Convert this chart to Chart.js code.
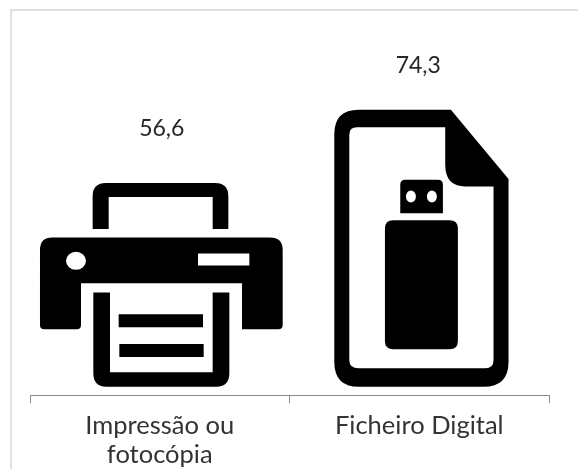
<!DOCTYPE html>
<html><head><meta charset="utf-8">
<script src="https://cdn.jsdelivr.net/npm/chart.js@4"></script>
<style>
html,body{margin:0;padding:0;background:#fff;overflow:hidden}
#wrap{position:absolute;left:0;top:0;width:578px;height:469px;overflow:hidden}
#frame{position:absolute;left:10px;top:9px;width:600px;height:500px;border:2px solid #e0e0e0}
canvas{position:absolute;left:0;top:0}
</style></head><body>
<div id="wrap"><div id="frame"></div><canvas id="c" width="578" height="469"></canvas></div>
<script>
const categories = [["Impressão ou","fotocópia"],"Ficheiro Digital"];
const values = [56.6, 74.3];
const valueLabels = ["56,6","74,3"];

const icons = [
 { frame:[49.5,24,789,675],
   paths:["M218,178V80Q218,40 258,40H585Q625,40 625,80V178H578V82H266V178Z",
   "M60,240Q60,203 97,203H750Q788,203 788,240V465Q788,478 775,478H666V340H183V465Q183,478 170,478H73Q60,478 60,465Z M138,273a30,27 0 1,0 60,0a30,27 0 1,0 -60,0Z M534,251H688V287H534Z",
   "M220,368H270V607H578V368H628V610Q628,650 590,650H258Q220,650 220,610Z",
   "M296,433H549V472H296Z","M298,522H551V561H298Z"] },
 { frame:[17,210,757,1065],
   paths:["M205,210H482L655,418V965Q655,1040 580,1040H205Q132,1040 132,965V283Q132,210 205,210Z M200,263H465V375Q465,440 525,440H610V960Q610,985 585,985H205Q177,985 177,960V285Q177,263 200,263Z",
   "M345,420H443Q458,420 458,435V520H330V435Q330,420 345,420Z M347,470a15,18 0 1,0 30,0a15,18 0 1,0 -30,0Z M410,470a15,18 0 1,0 30,0a15,18 0 1,0 -30,0Z",
   "M309,541H478Q503,541 503,566V903Q503,928 478,928H309Q284,928 284,903V566Q284,541 309,541Z"] }
];
const labelGap = [49, 44];
const labelShift = [2, -1];

const pictogram = {
  id:'pictogram',
  afterDatasetsDraw(chart){
    const ctx = chart.ctx;
    chart.getDatasetMeta(0).data.forEach((bar,i)=>{
      const p = bar.getProps(['x','y','base','width'],true);
      const ic = icons[i], f = ic.frame;
      ctx.save();
      ctx.translate(p.x-p.width/2, p.y);
      ctx.scale(p.width/(f[2]-f[0]), (p.base-p.y)/(f[3]-f[1]));
      ctx.translate(-f[0],-f[1]);
      ctx.fillStyle='#000';
      ic.paths.forEach(d=>ctx.fill(new Path2D(d),'evenodd'));
      ctx.restore();
      ctx.save();
      ctx.font='23px "Lato"';
      ctx.fillStyle='#262626';
      ctx.textAlign='center';ctx.textBaseline='middle';
      ctx.fillText(valueLabels[i], p.x+labelShift[i], p.y-labelGap[i]);
      ctx.restore();
    });
  }
};

new Chart(document.getElementById('c'),{
  type:'bar',
  data:{labels:categories,datasets:[{data:values,backgroundColor:'rgba(0,0,0,0)',borderWidth:0,barPercentage:0.95,categoryPercentage:1}]},
  plugins:[pictogram],
  options:{
    responsive:false,animation:false,
    layout:{padding:{left:30,right:29,top:11,bottom:0}},
    plugins:{legend:{display:false},tooltip:{enabled:false}},
    scales:{
      y:{display:false,min:0,max:100},
      x:{
        afterFit(s){s.height=74;},
        border:{color:'#8c8c8c',width:1},
        grid:{offset:true,drawOnChartArea:false,color:'#8c8c8c',tickLength:8},
        ticks:{maxRotation:0,autoSkip:false,color:'#333333',padding:8,font:{family:'Lato',size:25.5,lineHeight:1.15}}
      }
    }
  }
});
</script></body></html>
